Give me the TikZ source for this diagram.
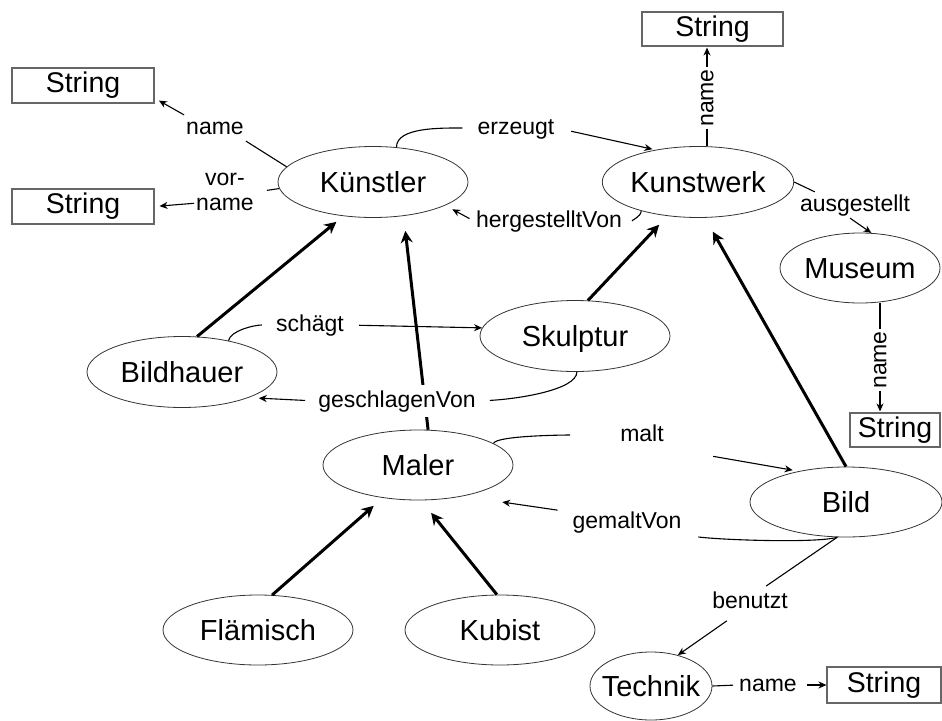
\documentclass[tikz,border=0pt]{standalone}
\usepackage{fontspec}
\setmainfont{Liberation Sans}
\usetikzlibrary{shapes.geometric,arrows.meta,backgrounds,calc}

\begin{document}
\begin{tikzpicture}[x=1pt,y=-1pt,
  cls/.style={ellipse, draw=black!80, line width=0.8pt, minimum width=190pt,
    minimum height=71pt, inner sep=0pt, font=\fontsize{29}{34}\selectfont,
    text height=20.9pt, text depth=0pt},
  typ/.style={rectangle, draw=black!60, line width=1.1pt, minimum height=35pt,
    inner sep=0pt, font=\fontsize{28.5}{34}\selectfont,
    text height=20.5pt, text depth=6pt},
  lblfont/.style={inner sep=2pt, font=\fontsize{23}{25}\selectfont},
  lbl/.style={lblfont, text height=17.25pt, text depth=4.6pt},
  rel/.style={line width=1.1pt, black},
  arr/.style={rel, -{Stealth[length=8pt,width=7pt]}},
  isa/.style={line width=3pt, -{Stealth[length=12pt,width=12pt]}, shorten >=12pt},
]
\useasboundingbox (0,0) rectangle (942,720);

% classes
\node[cls] (kue) at (373,182) {Künstler};
\node[cls] (kw) at (698,182) {Kunstwerk};
\node[cls, minimum width=160pt, minimum height=70pt] (mus) at (860,268) {Museum};
\node[cls] (bh) at (182,372) {Bildhauer};
\node[cls] (sk) at (575,336) {Skulptur};
\node[cls, minimum height=70pt] (mal) at (418,465) {Maler};
\node[cls, minimum height=70pt] (fl) at (258,630) {Flämisch};
\node[cls, minimum height=70pt] (kb) at (500,630) {Kubist};
\node[cls, minimum width=192pt, minimum height=70pt] (bild) at (846,502) {Bild};
\node[cls, minimum width=122pt, minimum height=68pt] (tech) at (651,686) {\makebox[0pt]{Technik}};

% literal types
\node[typ, minimum width=142pt] (s1) at (83,85.5) {String};
\node[typ, minimum width=142pt] (s2) at (83,206.5) {String};
\node[typ, minimum width=141pt, minimum height=34pt] (s3) at (712.5,29) {String};
\node[typ, minimum width=90pt, minimum height=34pt] (s4) at (895,430) {String};
\node[typ, minimum width=114pt, minimum height=36pt] (s5) at (884,685) {String};

% property labels
\node[lbl] (ln1) at (215,128) {name};
\node[lblfont, align=center] (lvor) at (225,192) {vor-\\name};
\node[lbl] (lerz) at (516,128) {erzeugt};
\node[lbl] (lher) at (549,221) {hergestelltVon};
\node[lbl, rotate=90] (lkwn) at (707,98) {name};
\node[lbl] (laus) at (855,205) {ausgestellt};
\node[lbl, rotate=90] (lmn) at (880,360) {name};
\node[lbl] (lsch) at (310,325) {schägt};
\node[lbl, fill=white, inner ysep=5pt] (lges) at (397,401) {geschlagenVon};
\node[lbl] (lmalt) at (642,435) {malt};
\node[lbl] (lgem) at (627,522) {gemaltVon};
\node[lbl] (lben) at (750,602) {benutzt};
\node[lbl] (ltn) at (768,685) {name};

% Künstler attributes
\draw[rel] (kue.170) -- (ln1.south east);
\draw[arr, shorten >=5pt] (ln1.north west) -- (s1.-10);
\draw[rel, shorten >=11pt] (kue.184) -- (lvor.east);
\draw[arr, shorten >=5pt] (lvor.200) -- (s2.east);

% erzeugt / hergestelltVon
\draw[rel, shorten >=13pt] (kue.56) .. controls +(0,-20) and +(-35,0) .. (lerz.west);
\draw[arr, shorten <=15pt, shorten >=3pt] (lerz.east) -- (kw.143);
\draw[rel, shorten >=8pt] (kw.-153) .. controls +(0,6) and +(6,0) .. (lher.east);
\draw[arr, shorten <=5pt, shorten >=8pt] (lher.west) -- (kue.-18);

% Kunstwerk attributes
\draw[rel] (lkwn) -- (kw.north -| lkwn);
\draw[arr, shorten >=1pt] (lkwn) -- (s3.south -| lkwn);
\draw[rel] (kw.east) -- ([xshift=17pt]laus.north west);
\draw[arr] ([xshift=-5pt]laus.south) -- (mus.72);
\draw[rel] (lmn) -- (mus.south -| lmn);
\draw[arr, shorten >=1pt] (lmn) -- (s4.north -| lmn);

% subclass links
\draw[isa, shorten >=9pt] (bh.67) -- (kue.-131);
\begin{scope}[on background layer]
  \draw[isa, shorten >=15pt] (mal.74) -- (kue.-48);
\end{scope}
\draw[isa] (sk.70) -- (kw.-132);
\draw[isa] (fl.68) -- (mal.-137);
\draw[isa, shorten >=16pt] (kb.95) -- (mal.-85);
\draw[isa, shorten >=16pt] (bild.north) -- (kw.-79);

% schägt / geschlagenVon
\draw[rel, shorten >=12pt] (bh.34) .. controls +(2,-10) and +(-20,0) .. (lsch.west);
\draw[arr, shorten <=13pt] (lsch.east) -- (sk.175);
\draw[rel, shorten >=12pt] (sk.-87) .. controls +(0,18) and +(40,-2) .. (lges.east);
\draw[arr, shorten <=11pt, shorten >=10pt] (lges.west) -- (bh.-21);

% malt / gemaltVon
\draw[rel, shorten >=48pt] (mal.16) .. controls +(3,-8) and +(-50,0) .. (lmalt.west);
\draw[arr, shorten <=48pt, shorten >=6pt] (lmalt.south east) -- (bild.147);
\draw[rel, shorten >=15pt] (bild.-104) .. controls +(-20,6) and +(40,5) .. (lgem.south east);
\draw[arr, shorten <=13pt, shorten >=40pt] (lgem.170) -- (mal.-35);

% benutzt / Technik name
\draw[rel, shorten >=5pt] (bild.-104) -- ([xshift=12pt]lben.north);
\draw[arr, shorten <=10pt] ([xshift=-15pt]lben.south) -- (tech.49);
\draw[rel, shorten >=4pt] (tech.east) -- (ltn.west);
\draw[arr, shorten <=8pt] (ltn.east) -- (s5.west);
\end{tikzpicture}
\end{document}
